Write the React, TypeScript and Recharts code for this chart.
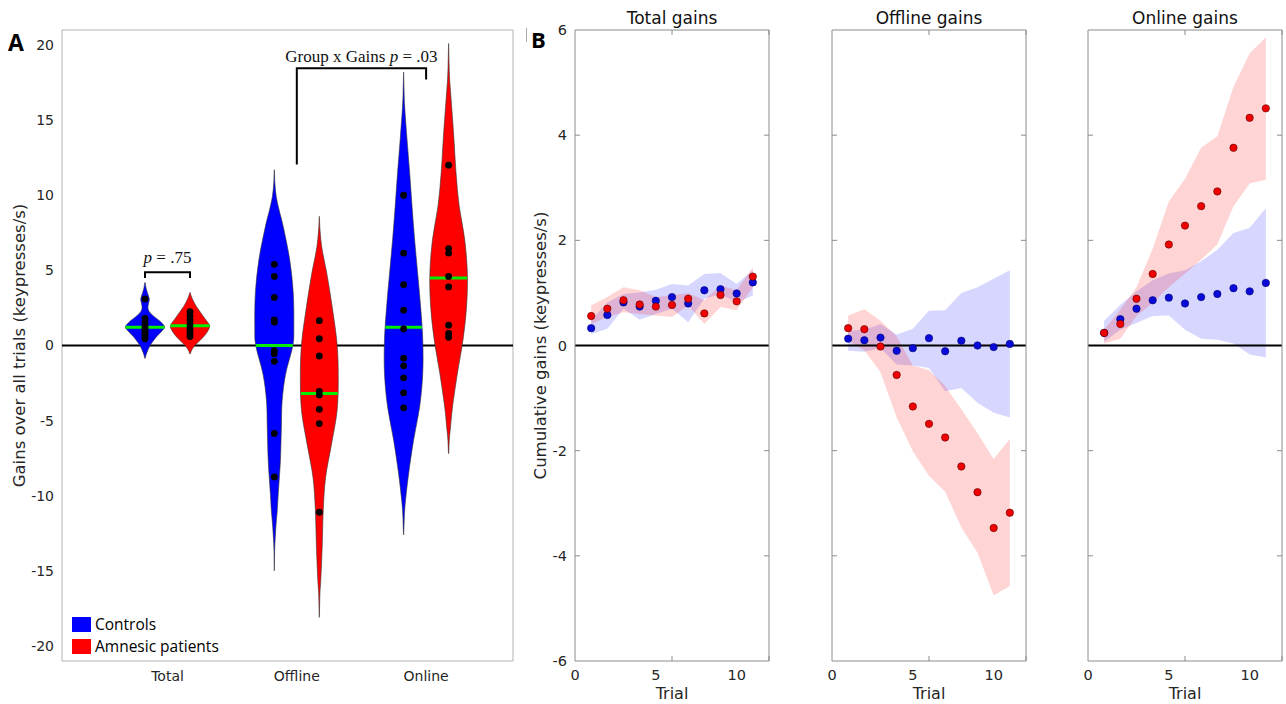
import React from 'react';
import { ComposedChart, Scatter, Area, XAxis, YAxis, ReferenceLine } from 'recharts';

const FONT = '"DejaVu Sans", sans-serif';
const SERIF = '"Liberation Serif", "DejaVu Serif", serif';
const TEXT = '#262626';
const BOX_A = '#b4b4b4';
const BOX_B = '#8c8c8c';
const BLUE = '#0000ff';
const RED = '#ff0000';
const GREEN = '#00ee00';

// ---------- Panel A data ----------
const groups = ['Total', 'Offline', 'Online'];
const groupPositions = [1, 2, 3];
const yTicksA = [-20, -15, -10, -5, 0, 5, 10, 15, 20];

// violin outlines: [value, relative density]
const controlsTotalProfile = [[-0.86, 0], [-0.6, 0.06], [-0.3, 0.15], [0, 0.26], [0.3, 0.42], [0.6, 0.6], [0.9, 0.82], [1.22, 1.0], [1.5, 0.86], [1.75, 0.64], [2.0, 0.4], [2.25, 0.22], [2.5, 0.15], [2.8, 0.18], [3.1, 0.22], [3.45, 0.14], [3.8, 0.06], [4.2, 0]];
const patientsTotalProfile = [[-0.57, 0], [-0.35, 0.07], [-0.08, 0.2], [0.2, 0.4], [0.5, 0.64], [0.9, 0.88], [1.32, 1.0], [1.8, 0.76], [2.35, 0.46], [2.7, 0.28], [3.05, 0.14], [3.3, 0.06], [3.53, 0]];
const controlsOfflineProfile = [[-15, 0], [-13.5, 0.02], [-12.1, 0.08], [-11, 0.15], [-9.9, 0.2], [-7.7, 0.31], [-5.5, 0.36], [-3.7, 0.4], [-1.9, 0.58], [0, 0.95], [1.2, 1.0], [3.5, 0.97], [5.7, 0.79], [7.9, 0.46], [9.0, 0.25], [9.9, 0.1], [10.8, 0.03], [11.7, 0]];
const patientsOfflineProfile = [[-18.1, 0], [-16.6, 0.03], [-15.5, 0.08], [-13.3, 0.15], [-11, 0.2], [-8.8, 0.32], [-6.6, 0.62], [-4.35, 0.91], [-2.1, 0.97], [0.1, 0.91], [2.3, 0.69], [4.6, 0.41], [6.0, 0.2], [6.8, 0.1], [7.8, 0.03], [8.6, 0]];
const controlsOnlineProfile = [[-12.6, 0], [-11.3, 0.04], [-10.3, 0.1], [-8.5, 0.26], [-6.3, 0.51], [-4.1, 0.82], [-1.85, 0.98], [0.4, 0.98], [2.6, 0.87], [4.8, 0.72], [7.1, 0.56], [9.3, 0.43], [11.5, 0.31], [13.8, 0.17], [16, 0.05], [17.2, 0.02], [18.2, 0]];
const patientsOnlineProfile = [[-7.2, 0], [-6.2, 0.04], [-5.4, 0.1], [-4.1, 0.2], [-1.85, 0.45], [0.4, 0.74], [2.6, 0.92], [4.8, 0.96], [7.1, 0.82], [9.3, 0.54], [11.5, 0.38], [13.8, 0.27], [16, 0.15], [17.8, 0.05], [19, 0.02], [20.1, 0]];

const controlsProfiles = [controlsTotalProfile, controlsOfflineProfile, controlsOnlineProfile];
const patientsProfiles = [patientsTotalProfile, patientsOfflineProfile, patientsOnlineProfile];

const controlsDots = [
  [3.1, 1.8, 1.6, 1.4, 1.2, 1.05, 0.9, 0.75, 0.6, 0.45],
  [5.4, 4.6, 3.2, 1.7, 1.55, -0.35, -0.55, -1.05, -5.85, -8.75],
  [10.0, 6.15, 4.05, 2.35, 1.1, -0.85, -1.35, -2.15, -3.15, -4.15],
];
const patientsDots = [
  [2.25, 2.0, 1.7, 1.45, 1.2, 1.0, 0.8, 0.6],
  [1.65, 0.45, -0.7, -3.05, -3.3, -4.25, -5.2, -11.1],
  [12.0, 6.45, 6.15, 4.6, 3.9, 1.35, 0.8, 0.55],
];
const controlsMeans = [1.22, 0.0, 1.22];
const patientsMeans = [1.32, -3.2, 4.5];

// ---------- Panel B data ----------
const trials = [1, 2, 3, 4, 5, 6, 7, 8, 9, 10, 11];
const xTicksB = [0, 5, 10];
const yTicksB = [-6, -4, -2, 0, 2, 4, 6];

const totCtrl = [0.33, 0.58, 0.82, 0.74, 0.85, 0.92, 0.80, 1.05, 1.07, 0.99, 1.20];
const totCtrlLo = [0.22, 0.32, 0.70, 0.49, 0.60, 0.70, 0.44, 0.89, 0.98, 0.82, 0.95];
const totCtrlHi = [0.48, 0.82, 0.98, 1.01, 1.06, 1.17, 1.14, 1.36, 1.38, 1.17, 1.43];
const totPat = [0.56, 0.70, 0.86, 0.78, 0.74, 0.77, 0.89, 0.61, 0.96, 0.84, 1.31];
const totPatLo = [0.41, 0.54, 0.63, 0.60, 0.57, 0.54, 0.76, 0.41, 0.73, 0.67, 1.11];
const totPatHi = [0.76, 0.92, 1.11, 1.05, 0.92, 0.95, 1.00, 0.86, 1.14, 1.05, 1.49];

const offCtrl = [0.13, 0.10, 0.15, -0.10, -0.05, 0.14, -0.11, 0.09, 0.0, -0.03, 0.03];
const offCtrlLo = [-0.1, -0.12, -0.05, -0.36, -0.38, -0.43, -0.87, -0.81, -1.09, -1.28, -1.37];
const offCtrlHi = [0.28, 0.3, 0.41, 0.21, 0.32, 0.66, 0.67, 1.0, 1.11, 1.27, 1.43];
const offPat = [0.33, 0.31, -0.02, -0.56, -1.16, -1.49, -1.75, -2.30, -2.79, -3.47, -3.18];
const offPatLo = [0.09, -0.09, -0.51, -1.37, -2.01, -2.48, -2.78, -3.46, -3.94, -4.75, -4.58];
const offPatHi = [0.57, 0.69, 0.47, 0.17, -0.38, -0.47, -0.77, -1.21, -1.67, -2.16, -1.78];

const onCtrl = [0.24, 0.50, 0.70, 0.86, 0.91, 0.80, 0.92, 0.98, 1.09, 1.03, 1.19];
const onCtrlLo = [0.07, 0.30, 0.43, 0.56, 0.57, 0.30, 0.13, 0.11, 0.04, -0.17, -0.23];
const onCtrlHi = [0.47, 0.77, 1.03, 1.24, 1.37, 1.43, 1.60, 1.82, 2.14, 2.24, 2.61];
const onPat = [0.24, 0.41, 0.89, 1.36, 1.92, 2.28, 2.65, 2.93, 3.76, 4.33, 4.51];
const onPatLo = [0.04, 0.13, 0.56, 0.81, 1.11, 1.37, 1.63, 1.92, 2.65, 3.08, 3.15];
const onPatHi = [0.30, 0.68, 1.11, 1.84, 2.74, 3.17, 3.76, 3.98, 4.92, 5.56, 5.86];

// ---------- helpers ----------
const xDomainA: [number, number] = [0.184, 3.672];
const GROUP_OFFSET = 0.174;
const VIOLIN_HALF = 0.151;

type Pt = { x: number; y: number };

function closedSmoothPath(pts: Pt[]): string {
  const n = pts.length;
  let d = `M${pts[0].x},${pts[0].y}`;
  for (let i = 0; i < n; i++) {
    const p0 = pts[(i - 1 + n) % n];
    const p1 = pts[i];
    const p2 = pts[(i + 1) % n];
    const p3 = pts[(i + 2) % n];
    const c1x = p1.x + (p2.x - p0.x) / 6;
    const c1y = p1.y + (p2.y - p0.y) / 6;
    const c2x = p2.x - (p3.x - p1.x) / 6;
    const c2y = p2.y - (p3.y - p1.y) / 6;
    d += `C${c1x},${c1y} ${c2x},${c2y} ${p2.x},${p2.y}`;
  }
  return d + 'Z';
}

function violinOutline(profile: number[][], cx: number) {
  const right = profile.map(([v, d]) => ({ x: cx + d * VIOLIN_HALF, y: v }));
  const left = profile
    .slice(1, -1)
    .reverse()
    .map(([v, d]) => ({ x: cx - d * VIOLIN_HALF, y: v }));
  return [...right, ...left];
}

function densityAt(profile: number[][], v: number) {
  for (let i = 0; i < profile.length - 1; i++) {
    const [a, da] = profile[i];
    const [b, db] = profile[i + 1];
    if (v >= a && v <= b) return da + ((v - a) / (b - a)) * (db - da);
  }
  return 0;
}

const violinLine = (fill: string) => (props: any) => {
  const pts: Pt[] = (props && props.points) || [];
  if (pts.length < 3) return <g />;
  return <path d={closedSmoothPath(pts)} fill={fill} stroke="#333" strokeWidth={0.6} />;
};

const noShape = () => <g />;
const blackDot = (p: any) => <circle cx={p.cx} cy={p.cy} r={3.4} fill="#000" />;

const axisTickA = { fill: TEXT, fontSize: 14, fontFamily: FONT };
const axisTickB = { fill: TEXT, fontSize: 14.5, fontFamily: FONT };

function PanelA() {
  const items: React.ReactNode[] = [];
  const zeroLine = [{ x: xDomainA[0], y: 0 }, { x: xDomainA[1], y: 0 }];
  items.push(
    <Scatter key="zero" data={zeroLine} dataKey="y" fill="#000" line={{ stroke: '#000', strokeWidth: 2 }} shape={noShape} isAnimationActive={false} />
  );
  groupPositions.forEach((g, gi) => {
    const sets = [
      { cx: g - GROUP_OFFSET, profile: controlsProfiles[gi], color: BLUE, dots: controlsDots[gi], mean: controlsMeans[gi], k: 'c' },
      { cx: g + GROUP_OFFSET, profile: patientsProfiles[gi], color: RED, dots: patientsDots[gi], mean: patientsMeans[gi], k: 'p' },
    ];
    sets.forEach((s) => {
      items.push(
        <Scatter key={`v${s.k}${gi}`} data={violinOutline(s.profile, s.cx)} dataKey="y" fill={s.color} line={violinLine(s.color)} shape={noShape} isAnimationActive={false} />
      );
      const hw = densityAt(s.profile, s.mean) * VIOLIN_HALF;
      items.push(
        <Scatter key={`m${s.k}${gi}`} data={[{ x: s.cx - hw, y: s.mean }, { x: s.cx + hw, y: s.mean }]} dataKey="y" fill={GREEN} line={{ stroke: GREEN, strokeWidth: 3 }} shape={noShape} isAnimationActive={false} />
      );
      items.push(
        <Scatter key={`d${s.k}${gi}`} data={s.dots.map((v) => ({ x: s.cx, y: v }))} dataKey="y" fill="#000" shape={blackDot} isAnimationActive={false} />
      );
    });
  });
  // brackets
  const b1 = [
    { x: 1 - GROUP_OFFSET, y: 4.5 }, { x: 1 - GROUP_OFFSET, y: 4.87 },
    { x: 1 + GROUP_OFFSET, y: 4.87 }, { x: 1 + GROUP_OFFSET, y: 4.5 },
  ];
  const b2 = [{ x: 2, y: 12.04 }, { x: 2, y: 18.45 }, { x: 3, y: 18.45 }, { x: 3, y: 17.7 }];
  items.push(<Scatter key="b1" data={b1} dataKey="y" fill="#000" line={{ stroke: '#000', strokeWidth: 2 }} shape={noShape} isAnimationActive={false} />);
  items.push(<Scatter key="b2" data={b2} dataKey="y" fill="#000" line={{ stroke: '#000', strokeWidth: 2 }} shape={noShape} isAnimationActive={false} />);
  const t1 = (p: any) => (
    <text x={p.cx} y={p.cy} textAnchor="middle" fontFamily={SERIF} fontSize={17} fill="#111">
      <tspan fontStyle="italic">p</tspan> = .75
    </text>
  );
  const t2 = (p: any) => (
    <text x={p.cx} y={p.cy} textAnchor="middle" fontFamily={SERIF} fontSize={17} fill="#111">
      Group x Gains <tspan fontStyle="italic">p</tspan> = .03
    </text>
  );
  items.push(<Scatter key="t1" data={[{ x: 1, y: 5.5 }]} dataKey="y" fill="#000" shape={t1} isAnimationActive={false} />);
  items.push(<Scatter key="t2" data={[{ x: 2.5, y: 18.88 }]} dataKey="y" fill="#000" shape={t2} isAnimationActive={false} />);

  return (
    <ComposedChart width={530} height={704} margin={{ top: 30, right: 17, bottom: 13, left: 12 }}>
      <XAxis
        dataKey="x"
        type="number"
        domain={xDomainA}
        allowDataOverflow
        ticks={groupPositions}
        tickFormatter={(v: number) => groups[Math.round(v) - 1] || ''}
        tickLine={false}
        tickMargin={4}
        axisLine={{ stroke: BOX_A }}
        tick={axisTickA}
        height={30}
      />
      <YAxis
        type="number"
        domain={[-21, 21]}
        allowDataOverflow
        ticks={yTicksA}
        tickLine={false}
        axisLine={{ stroke: BOX_A }}
        tick={axisTickA}
        width={50}
        label={{
          value: 'Gains over all trials (keypresses/s)',
          angle: -90,
          position: 'insideLeft',
          offset: 7,
          style: { textAnchor: 'middle', fontSize: 16.5, fontFamily: FONT, fill: TEXT },
        }}
      />
      <XAxis xAxisId="top" orientation="top" mirror type="number" domain={[0, 1]} tick={false} tickLine={false} axisLine={{ stroke: BOX_A }} />
      <YAxis yAxisId="right" orientation="right" mirror type="number" domain={[0, 1]} tick={false} tickLine={false} axisLine={{ stroke: BOX_A }} />
      {items}
    </ComposedChart>
  );
}

function makeRows(c: number[], cLo: number[], cHi: number[], p: number[], pLo: number[], pHi: number[]) {
  return trials.map((t, i) => ({ trial: t, c: c[i], cBand: [cLo[i], cHi[i]], p: p[i], pBand: [pLo[i], pHi[i]] }));
}

const blueDotB = (p: any) => <circle cx={p.cx} cy={p.cy} r={3.7} fill="#0a0ad8" stroke="#000070" strokeWidth={0.6} />;
const redDotB = (p: any) => <circle cx={p.cx} cy={p.cy} r={3.7} fill="#f00000" stroke="#5a0000" strokeWidth={0.6} />;
const emptyLabel = () => '';

function GainsPanel({ rows, showY }: { rows: any[]; showY: boolean }) {
  return (
    <ComposedChart width={255} height={704} data={rows} margin={{ top: 30, right: 6, bottom: 0, left: 10 }}>
      <XAxis
        dataKey="trial"
        type="number"
        domain={[0, 12]}
        allowDataOverflow
        ticks={xTicksB}
        tickLine={false}
        tickMargin={3}
        axisLine={{ stroke: BOX_B }}
        tick={axisTickB}
        height={43}
        label={{ value: 'Trial', position: 'insideBottom', offset: 5, style: { fontSize: 16, fontFamily: FONT, fill: TEXT } }}
      />
      <YAxis
        type="number"
        domain={[-6, 6]}
        allowDataOverflow
        ticks={yTicksB}
        tickLine={false}
        axisLine={{ stroke: BOX_B }}
        tick={axisTickB}
        tickFormatter={showY ? undefined : emptyLabel}
        width={45}
        label={
          showY
            ? {
                value: 'Cumulative gains (keypresses/s)',
                angle: -90,
                position: 'insideLeft',
                offset: 10,
                style: { textAnchor: 'middle', fontSize: 16.5, fontFamily: FONT, fill: TEXT },
              }
            : undefined
        }
      />
      <XAxis xAxisId="xt" orientation="top" mirror type="number" domain={[0, 12]} allowDataOverflow ticks={[5, 10]} tickSize={5} tickFormatter={emptyLabel} tickLine={{ stroke: BOX_B }} axisLine={{ stroke: BOX_B }} />
      <XAxis xAxisId="xb" orientation="bottom" mirror type="number" domain={[0, 12]} allowDataOverflow ticks={[5, 10]} tickSize={5} tickFormatter={emptyLabel} tickLine={{ stroke: BOX_B }} axisLine={false} />
      <YAxis yAxisId="yl" orientation="left" mirror type="number" domain={[-6, 6]} allowDataOverflow ticks={[-4, -2, 2, 4]} tickSize={5} tickFormatter={emptyLabel} tickLine={{ stroke: BOX_B }} axisLine={false} />
      <YAxis yAxisId="yr" orientation="right" mirror type="number" domain={[-6, 6]} allowDataOverflow ticks={[-4, -2, 2, 4]} tickSize={5} tickFormatter={emptyLabel} tickLine={{ stroke: BOX_B }} axisLine={{ stroke: BOX_B }} />
      <Area dataKey="cBand" type="linear" fill={BLUE} fillOpacity={0.16} stroke="none" isAnimationActive={false} />
      <Area dataKey="pBand" type="linear" fill={RED} fillOpacity={0.17} stroke="none" isAnimationActive={false} />
      <ReferenceLine y={0} stroke="#000" strokeWidth={2} />
      <Scatter dataKey="c" fill="#0a0ad8" shape={blueDotB} isAnimationActive={false} />
      <Scatter dataKey="p" fill="#f00000" shape={redDotB} isAnimationActive={false} />
    </ComposedChart>
  );
}

const totalRows = makeRows(totCtrl, totCtrlLo, totCtrlHi, totPat, totPatLo, totPatHi);
const offlineRows = makeRows(offCtrl, offCtrlLo, offCtrlHi, offPat, offPatLo, offPatHi);
const onlineRows = makeRows(onCtrl, onCtrlLo, onCtrlHi, onPat, onPatLo, onPatHi);

const panelsB = [
  { title: 'Total gains', rows: totalRows, left: 520, showY: true },
  { title: 'Offline gains', rows: offlineRows, left: 777, showY: false },
  { title: 'Online gains', rows: onlineRows, left: 1033, showY: false },
];

export default function App() {
  return (
    <div style={{ position: 'absolute', left: 0, top: 0, width: 1286, height: 704, overflow: 'hidden', background: '#fff' }}>
      <div style={{ position: 'absolute', left: 0, top: 0 }}>
        <PanelA />
      </div>
      {panelsB.map((p) => (
        <div key={p.title} style={{ position: 'absolute', left: p.left, top: 0 }}>
          <GainsPanel rows={p.rows} showY={p.showY} />
        </div>
      ))}
      {panelsB.map((p) => (
        <div
          key={p.title + 't'}
          style={{
            position: 'absolute',
            left: p.left + 55,
            width: 194,
            top: 7,
            textAlign: 'center',
            fontFamily: FONT,
            fontSize: 17,
            color: '#111',
            lineHeight: '22px',
          }}
        >
          {p.title}
        </div>
      ))}
      <div style={{ position: 'absolute', left: 8, top: 27, fontFamily: '"Open Sans", sans-serif', fontWeight: 700, fontSize: 23, lineHeight: '30px', color: '#000' }}>A</div>
      <div style={{ position: 'absolute', left: 531, top: 24, fontFamily: '"Open Sans", sans-serif', fontWeight: 700, fontSize: 22, lineHeight: '30px', color: '#000' }}>B</div>
      <div style={{ position: 'absolute', left: 526, top: 28, width: 1, height: 14, background: '#aaa' }} />
      <div style={{ position: 'absolute', left: 72, top: 613, fontFamily: '"Open Sans", sans-serif', fontSize: 15.5, color: '#000' }}>
        <div style={{ display: 'flex', alignItems: 'center', height: 22 }}>
          <div style={{ width: 19, height: 15, background: BLUE, marginRight: 4 }} />
          <span>Controls</span>
        </div>
        <div style={{ display: 'flex', alignItems: 'center', height: 22 }}>
          <div style={{ width: 19, height: 15, background: RED, marginRight: 4 }} />
          <span>Amnesic patients</span>
        </div>
      </div>
    </div>
  );
}
